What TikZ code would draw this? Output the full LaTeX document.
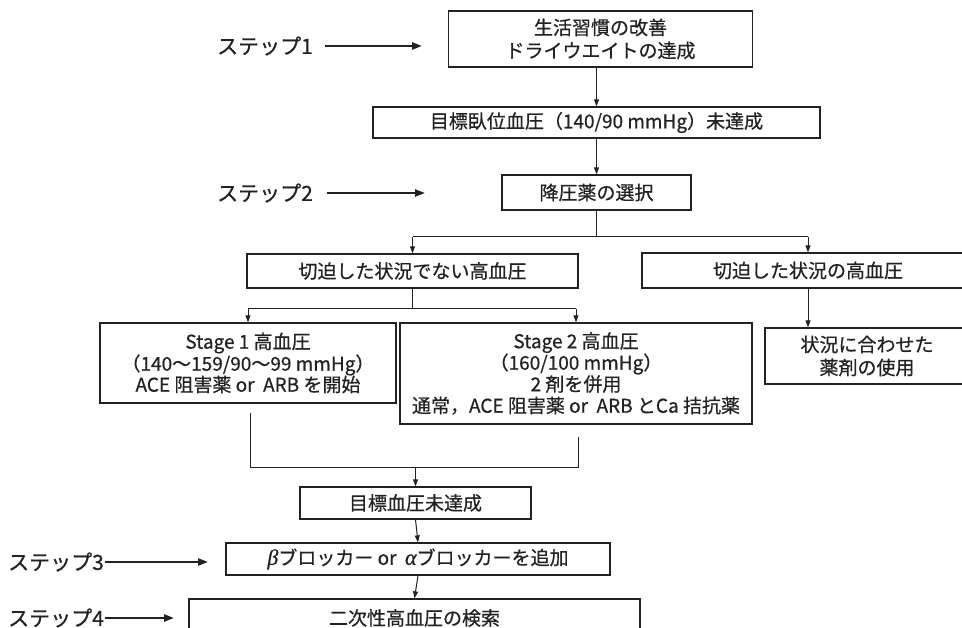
\documentclass[tikz,border=0pt]{standalone}
\usepackage{fontspec}
\setmainfont{Noto Sans CJK JP}[FakeBold=0.6]
\newfontfamily\grk{Liberation Serif}[FakeBold=0.6]
\usetikzlibrary{arrows.meta,calc}
\definecolor{ink}{HTML}{222222}
\tikzset{
  box/.style={draw=ink,line width=1.3pt,fill=white,text=ink,align=center,inner sep=0pt,
    font=\fontsize{19}{23}\selectfont},
  conn/.style={draw=ink,line width=1pt},
  arr/.style={conn,-{Triangle[length=7pt,width=5pt]}},
  steparr/.style={draw=ink,line width=2.2pt,-{Triangle[length=10pt,width=7pt]}},
  steplbl/.style={text=ink,inner sep=0pt,font=\fontsize{21}{24}\selectfont}
}
\newcommand{\grkit}[1]{{\grk\itshape\fontsize{22}{23}\selectfont #1}}
\begin{document}
\begin{tikzpicture}[x=1pt,y=-1pt]
\useasboundingbox (0,0) rectangle (962,628);
\clip (0,0) rectangle (962,628);
\fill[white] (0,0) rectangle (962,628);

% boxes
\node[box,minimum width=304pt,minimum height=56pt] (b1) at (600.5,39) {生活習慣の改善\\ドライウエイトの達成};
\node[box,minimum width=447pt,minimum height=31pt] (b2) at (596.5,122.5) {目標臥位血圧（140/90 mmHg）未達成};
\node[box,minimum width=189pt,minimum height=35pt] (b3) at (596.5,192.5) {降圧薬の選択};
\node[box,minimum width=331pt,minimum height=34pt] (b4) at (412.5,271) {切迫した状況でない高血圧};
\node[box,minimum width=332pt,minimum height=35pt] (b5) at (808,270.5) {切迫した状況の高血圧};
\node[box,minimum width=296pt,minimum height=80pt,font=\fontsize{19}{21}\selectfont] (st1) at (248,363)
  {Stage 1 高血圧\\（140〜159/90〜99 mmHg）\\ACE 阻害薬 or\ \ ARB を開始};
\node[box,minimum width=352pt,minimum height=101pt,font=\fontsize{19}{21.5}\selectfont] (st2) at (576,373.5)
  {Stage 2 高血圧\\（160/100 mmHg）\\2 剤を併用\\通常，ACE 阻害薬 or\ \ ARB とCa 拮抗薬};
\node[box,minimum width=204pt,minimum height=56pt] (sit) at (867,356) {状況に合わせた\\薬剤の使用};
\node[box,minimum width=231pt,minimum height=32pt] (b7) at (415.5,503) {目標血圧未達成};
\node[box,minimum width=384pt,minimum height=32pt] (b8) at (418,559) {\grkit{β}ブロッカー or\ \ \grkit{α}ブロッカーを追加};
\node[box,minimum width=451pt,minimum height=38pt] (b9) at (414.5,618) {二次性高血圧の検索};

% step labels
\node[steplbl,anchor=west] (s1) at (217,46) {ステップ1};
\node[steplbl,anchor=west] (s2) at (217,193) {ステップ2};
\node[steplbl,anchor=west] (s3) at (8,562) {ステップ3};
\node[steplbl,anchor=west] (s4) at (8,618) {ステップ4};
\coordinate (s1e) at (422,46);
\coordinate (s2e) at (425,193);
\coordinate (s3e) at (208,562);
\coordinate (s4e) at (174,618);
\draw[steparr] ([xshift=12pt]s1.east) -- (s1e);
\draw[steparr] ([xshift=14pt]s2.east) -- (s2e);
\draw[steparr] ([xshift=1pt]s3.east) -- (s3e);
\draw[steparr] ([xshift=1pt]s4.east) -- (s4e);

% main flow
\draw[arr] (b2.north |- b1.south) -- (b2.north);
\draw[arr] (b2.south) -- (b3.north);

\coordinate (j1) at (596.5,237);
\draw[conn] (b3.south) -- (j1);
\draw[conn] (j1 -| b4.north) -- (j1 -| b5.north);
\draw[arr] (j1 -| b4.north) -- (b4.north);
\draw[arr] (j1 -| b5.north) -- (b5.north);

\draw[arr] (b5.south) -- (b5.south |- sit.north);

\coordinate (j2) at (412.5,309);
\draw[conn] (b4.south) -- (j2);
\draw[conn] (j2 -| st1.north) -- (j2 -| st2.north);
\draw[arr] (j2 -| st1.north) -- (st1.north);
\draw[arr] (j2 -| st2.north) -- (st2.north);

\coordinate (c1) at (250,413);
\coordinate (c2) at (578,437);
\coordinate (j3) at (250,467);
\coordinate (j4) at (578,467);
\draw[conn] (c1) -- (j3) -- (j4) -- (c2);
\draw[arr] (j3 -| b7.north) -- (b7.north);

\draw[arr] (b7.south) -- (b8.north);
\draw[arr] (b8.south) -- (b9.north);
\end{tikzpicture}
\end{document}
